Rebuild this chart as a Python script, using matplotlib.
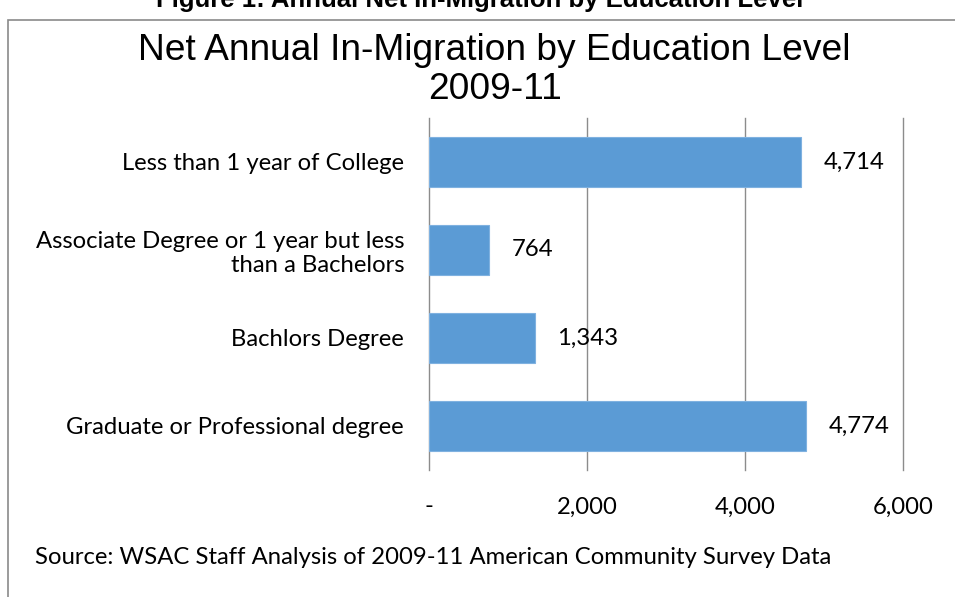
import matplotlib
matplotlib.use("Agg")
import matplotlib.pyplot as plt
from matplotlib.patches import Rectangle
from matplotlib.ticker import FixedLocator

categories = [
    "Less than 1 year of College",
    "Associate Degree or 1 year but less\nthan a Bachelors",
    "Bachlors Degree",
    "Graduate or Professional degree",
]
values = [4714, 764, 1343, 4774]
x_ticks = [0, 2000, 4000, 6000]
x_tick_labels = ["-", "2,000", "4,000", "6,000"]

BAR_COLOR = "#5b9bd5"
GRID_COLOR = "#8c8c8c"
BODY_FONT = ["Lato", "DejaVu Sans"]
TITLE_FONT = ["Liberation Sans", "DejaVu Sans"]
BODY_SIZE = 17.2

fig = plt.figure(figsize=(9.55, 5.97), dpi=100)

# outer chart frame (cut off on the right/bottom like the source page)
fig.patches.append(Rectangle((8 / 955, -0.05), 1.2, 1 - 20 / 597 + 0.05,
                             transform=fig.transFigure, fill=False,
                             edgecolor="#8a8a8a", lw=1.2))

# caption above the frame, its top is cut off in the source page
fig.text(0.502, 1 - 7 / 597, "Figure 1: Annual Net In-Migration by Education Level",
         ha="center", va="baseline", fontsize=18.5, fontweight="bold", family=TITLE_FONT)

fig.text(0.518, 1 - 70 / 597, "Net Annual In-Migration by Education Level\n2009-11",
         ha="center", va="center", fontsize=26.7, family=TITLE_FONT, linespacing=1.15)

ax = fig.add_axes([429 / 955, 127 / 597, 474 / 955, 352 / 597])
y = list(range(len(categories)))
ax.barh(y, values, height=0.57, color=BAR_COLOR, edgecolor="#7fb1e0", lw=0.8, zorder=3)
ax.set_ylim(len(categories) - 0.5, -0.5)
ax.set_xlim(0, 6000)

ax.xaxis.set_major_locator(FixedLocator(x_ticks))
ax.set_xticklabels(x_tick_labels, family=BODY_FONT, fontsize=BODY_SIZE)
ax.set_yticks(y)
ax.set_yticklabels(categories, family=BODY_FONT, fontsize=BODY_SIZE, linespacing=1.2)
ax.tick_params(axis="x", length=0, pad=19)
ax.tick_params(axis="y", length=0, pad=18)

ax.grid(axis="x", color=GRID_COLOR, lw=1.0, zorder=0)
for line in ax.get_xgridlines():
    line.set_clip_on(False)
for s in ax.spines.values():
    s.set_visible(False)

for yi, v in zip(y, values):
    ax.annotate(f"{v:,}", (v, yi), xytext=(16, 0), textcoords="offset points",
                ha="left", va="center", family=BODY_FONT, fontsize=BODY_SIZE)

fig.text(35 / 955, 1 - 557 / 597, "Source: WSAC Staff Analysis of 2009-11 American Community Survey Data",
         ha="left", va="center", family=BODY_FONT, fontsize=BODY_SIZE)

fig.savefig("out.png", dpi=100)
